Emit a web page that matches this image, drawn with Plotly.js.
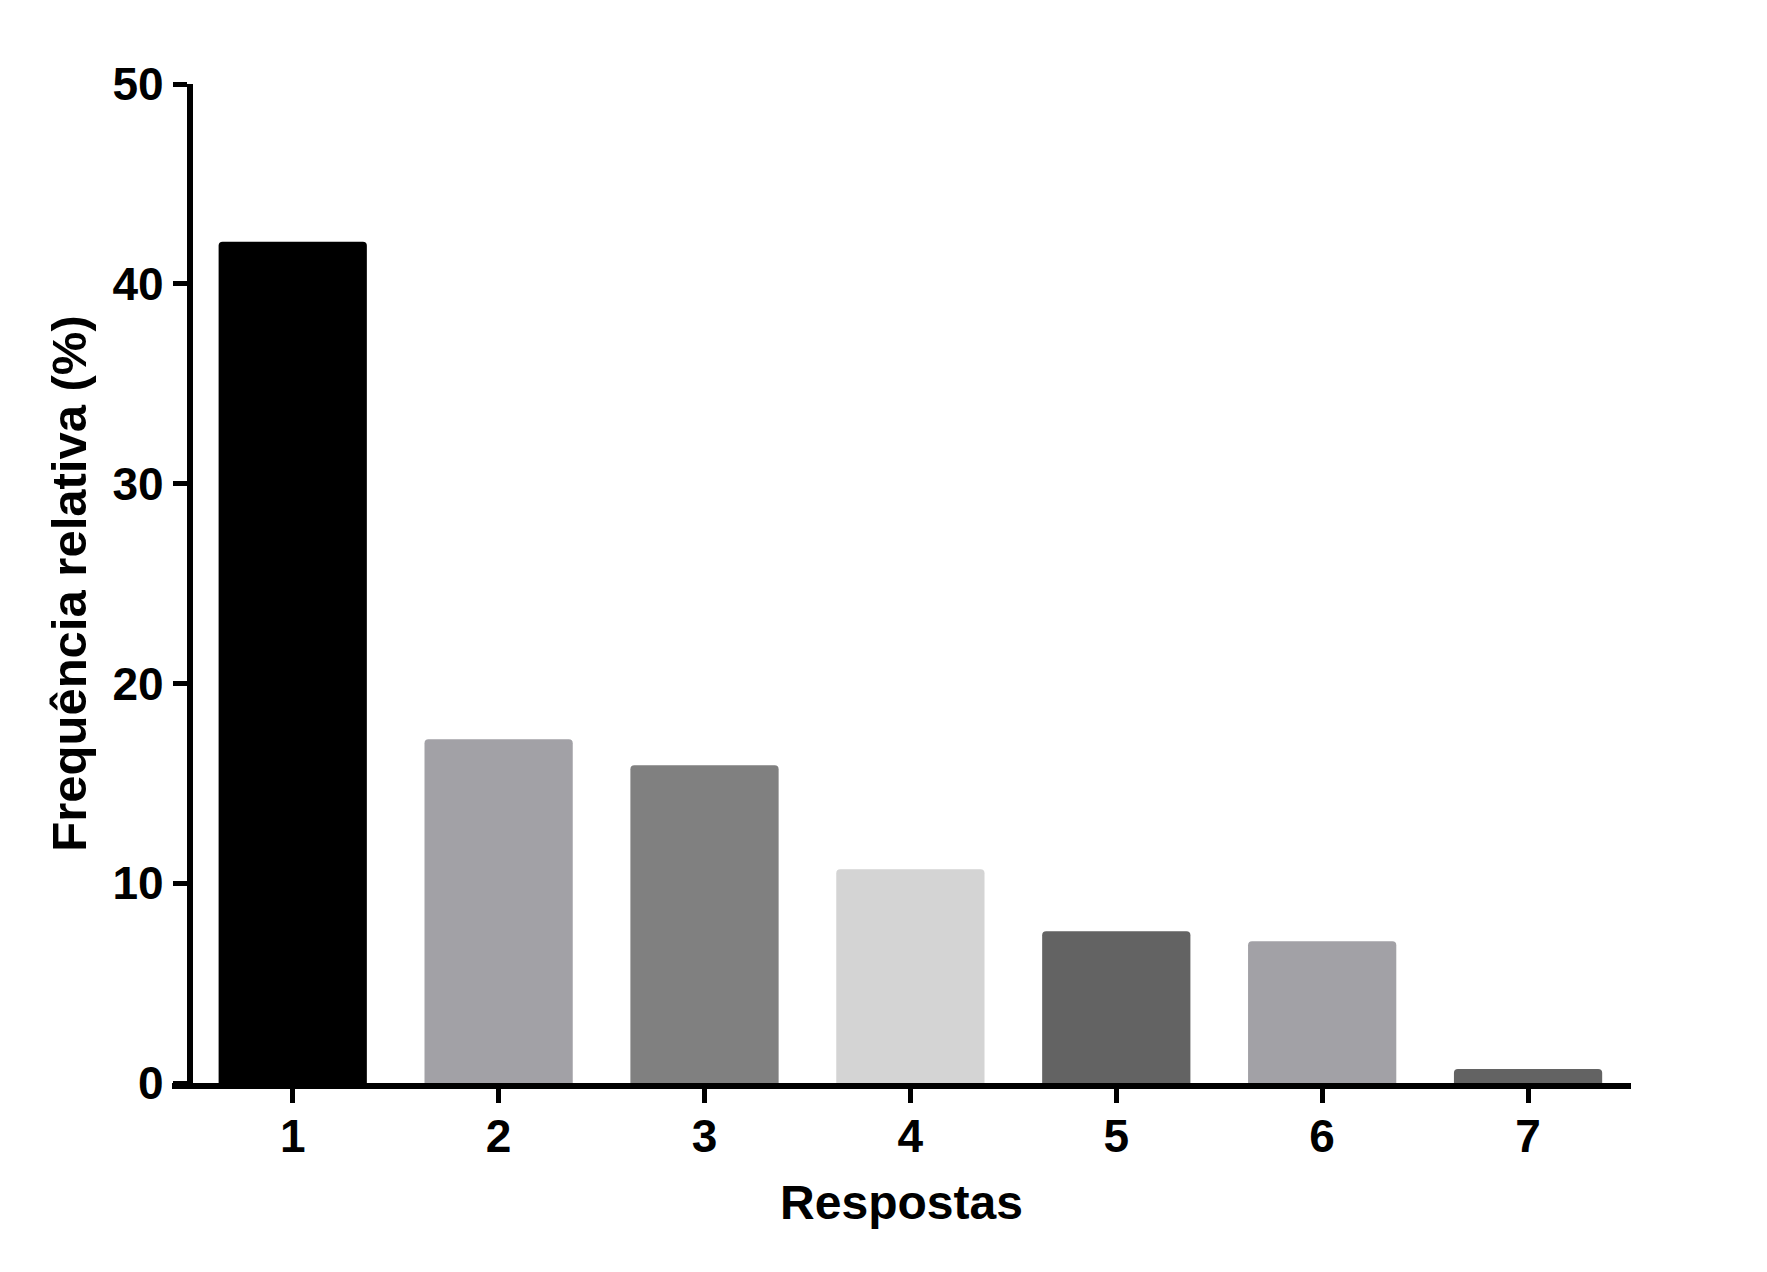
<!DOCTYPE html>
<html>
<head>
<meta charset="utf-8">
<script src="https://cdn.plot.ly/plotly-3.0.1.min.js"></script>
<style>
  html, body { margin: 0; padding: 0; background: #fff; }
  #chart { width: 1767px; height: 1272px; }
</style>
</head>
<body>
<div id="chart"></div>
<script>
// respostas 1..7, frequencia relativa (%)
var respostas = [1, 2, 3, 4, 5, 6, 7];
var frequencia = [42.1, 17.2, 15.9, 10.7, 7.6, 7.1, 0.7];
var yTicks = [0, 10, 20, 30, 40, 50];

var barColors = ['#000000', '#a2a1a6', '#808080', '#d4d4d4', '#636363', '#a2a1a6', '#636363'];
var boldFont = {family: 'Liberation Sans, Arial, sans-serif', weight: 'bold', color: '#000'};

var data = [
    {
        type: 'bar',
        x: respostas,
        y: frequencia,
        width: 0.72,
        marker: {
            color: barColors,
            line: {width: 0},
            cornerradius: 4
        },
        hoverinfo: 'x+y'
    }
];

// plot area: left edge sits a bit before the y axis (x axis line sticks out)
var xmin = 0.4136;
var yaxisPos = (0.5 - xmin) / (7.5 - xmin);

var layout = {
    width: 1767,
    height: 1272,
    margin: {l: 172, r: 136, t: 84, b: 189},
    paper_bgcolor: '#fff',
    plot_bgcolor: '#fff',
    showlegend: false,
    font: boldFont,
    xaxis: {
        range: [xmin, 7.5],
        tickvals: respostas,
        ticktext: respostas.map(String),
        showgrid: false,
        zeroline: false,
        showline: true,
        linecolor: '#000',
        linewidth: 6,
        ticks: 'outside',
        ticklen: 14,
        tickwidth: 5,
        tickcolor: '#000',
        ticklabelstandoff: -6,
        tickfont: {family: boldFont.family, weight: 'bold', size: 46, color: '#000'},
        title: {
            text: 'Respostas',
            font: {family: boldFont.family, weight: 'bold', size: 48, color: '#000'},
            standoff: 26
        }
    },
    yaxis: {
        range: [0, 50],
        tickvals: yTicks,
        anchor: 'free',
        position: yaxisPos,
        showgrid: false,
        zeroline: false,
        showline: true,
        linecolor: '#000',
        linewidth: 6,
        ticks: 'outside',
        ticklen: 14,
        tickwidth: 5,
        tickcolor: '#000',
        tickfont: {family: boldFont.family, weight: 'bold', size: 46, color: '#000'},
        title: {
            text: 'Frequência relativa (%)',
            font: {family: boldFont.family, weight: 'bold', size: 49, color: '#000'},
            standoff: 9
        }
    }
};

Plotly.newPlot('chart', data, layout, {staticPlot: true});
</script>
</body>
</html>
